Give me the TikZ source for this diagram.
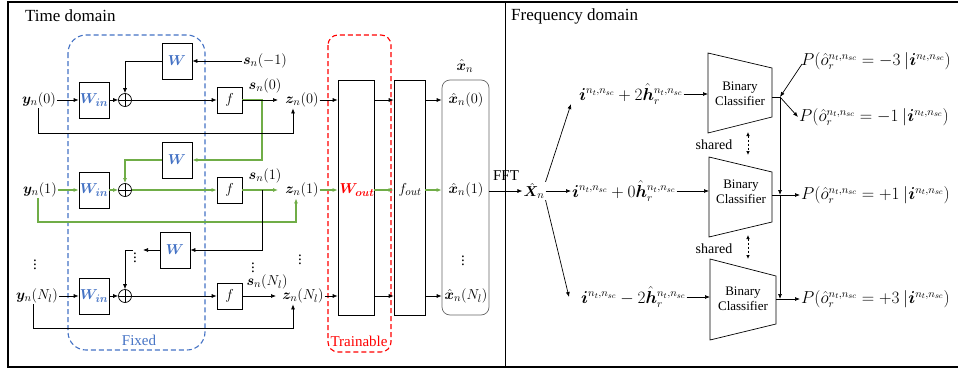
\documentclass[tikz,border=0pt]{standalone}
\usepackage{amsmath,amssymb,bm}
\usepackage{fontspec}
\setmainfont{Liberation Serif}
\usetikzlibrary{positioning,arrows.meta,calc}
\definecolor{fixblue}{RGB}{68,114,196}
\definecolor{trgreen}{RGB}{112,173,71}
\definecolor{trred}{RGB}{255,0,0}
\tikzset{
  blk/.style={draw,line width=0.7pt,inner sep=0pt},
  wbox/.style={blk,minimum width=30pt,minimum height=36pt,font=\fontsize{15}{18}\selectfont,text=fixblue},
  fbox/.style={blk,minimum width=25pt,minimum height=26pt,font=\fontsize{15}{18}\selectfont},
  colbox/.style={blk,minimum height=235pt},
  sumnode/.style={circle,draw,line width=0.7pt,minimum size=13pt,inner sep=0pt,
    path picture={\draw[line width=0.7pt] (path picture bounding box.north)--(path picture bounding box.south)
      (path picture bounding box.west)--(path picture bounding box.east);}},
  lbl/.style={inner sep=1pt,font=\fontsize{15}{18}\selectfont},
  plbl/.style={lbl,anchor=west,font=\fontsize{16}{19}\selectfont},
  txt/.style={inner sep=1pt,font=\fontsize{13}{15}\selectfont,align=center},
  title/.style={inner sep=0pt,anchor=west,font=\fontsize{17}{20}\selectfont},
  flow/.style={-{Latex[length=5pt,width=4pt]},line width=0.7pt},
  gflow/.style={flow,trgreen,line width=2pt},
  region/.style={dash pattern=on 5pt off 3pt,line width=1.1pt},
  shr/.style={{Latex[length=4pt,width=3.5pt]}-{Latex[length=4pt,width=3.5pt]},dash pattern=on 2pt off 2pt,line width=0.7pt},
}

\begin{document}
\begin{tikzpicture}[x=1pt,y=-1pt]
  \useasboundingbox (0,0) rectangle (958,372);
  \draw[line width=1.2pt] (958,2) -- (8,2) -- (8,367);
  \draw[line width=2.5pt] (7,367) -- (958,367);
  \draw[line width=0.8pt] (505,2) -- (505,366);
  \node[title] (tdom) at (25,16) {Time domain};
  \node[title] (fdom) at (511,16) {Frequency domain};

  \draw[region,fixblue,rounded corners=18pt] (68,35) rectangle (205,350);
  \node[lbl,text=fixblue] (fixed) at (139,340) {Fixed};
  \draw[region,trred,rounded corners=10pt] (328,35) rectangle (391,352);
  \node[lbl,text=trred] (train) at (359,341) {Trainable};

  \node[lbl] (y0) at (39,100) {$\boldsymbol{y}_n(0)$};
  \node[wbox] (win0) at (94,100) {$\boldsymbol{W}_{\boldsymbol{in}}$};
  \node[sumnode] (sum0) at (125,100) {};
  \node[fbox] (f0) at (229.5,100) {$f$};
  \node[wbox] (w0) at (177,61) {$\boldsymbol{W}$};
  \node[lbl] (sm1) at (265,61) {$\boldsymbol{s}_n(-1)$};
  \node[lbl] (s0) at (265,86) {$\boldsymbol{s}_n(0)$};
  \node[lbl] (z0) at (302,100) {$\boldsymbol{z}_n(0)$};
  \coordinate (tap0) at (262,100);
  \coordinate (zin0) at (278,100);
  \coordinate (y0b) at (38,133);
  \coordinate (z0b) at (293,133);

  \node[lbl] (y1) at (40,190) {$\boldsymbol{y}_n(1)$};
  \node[wbox] (win1) at (94,190) {$\boldsymbol{W}_{\boldsymbol{in}}$};
  \node[sumnode] (sum1) at (125,190) {};
  \node[fbox] (f1) at (229.5,190) {$f$};
  \node[wbox] (w1) at (177,160) {$\boldsymbol{W}$};
  \node[lbl] (s1) at (265,176) {$\boldsymbol{s}_n(1)$};
  \node[lbl] (z1) at (302,190) {$\boldsymbol{z}_n(1)$};
  \coordinate (tap1) at (262,190);
  \coordinate (zin1) at (278,190);
  \coordinate (y1b) at (38,222);
  \coordinate (z1b) at (296,222);

  \node[wbox] (w2) at (175,250) {$\boldsymbol{W}$};
  \node[lbl] (dotsw) at (135,255) {$\vdots$};
  \coordinate (dotsin) at (143,250);
  \coordinate (fbN) at (133,250);

  \node[lbl] (yN) at (37,296) {$\boldsymbol{y}_n(N_l)$};
  \node[wbox] (winN) at (94,296) {$\boldsymbol{W}_{\boldsymbol{in}}$};
  \node[sumnode] (sumN) at (125,296) {};
  \node[fbox] (fN) at (229.5,296) {$f$};
  \node[lbl] (sN) at (267,282) {$\boldsymbol{s}_n(N_l)$};
  \node[lbl] (zN) at (303,296) {$\boldsymbol{z}_n(N_l)$};
  \coordinate (zinN) at (276,296);
  \coordinate (yNb) at (33,328);
  \coordinate (zNb) at (293,328);

  \node[lbl] (dy) at (35,262) {$\vdots$};
  \node[lbl] (ds) at (253,265) {$\vdots$};
  \node[lbl] (dz) at (300,257) {$\vdots$};

  \draw[flow] (y0) -- (win0);
  \draw[flow] (win0) -- (sum0);
  \draw[flow] (sum0) -- (f0);
  \draw[flow] (sm1) -- (w0);
  \draw[flow] (w0.west) -| (sum0.north);
  \draw[gflow] (f0.east) -- (tap0) |- (w1.east);
  \draw[flow] (f0.east) -- (zin0);
  \draw[flow] (y0.south -| y0b) -- (y0b) -- (z0b) -- (z0.south -| z0b);

  \draw[gflow] (y1) -- (win1);
  \draw[gflow] (win1) -- (sum1);
  \draw[gflow] (sum1) -- (f1);
  \draw[gflow] (w1.west) -| (sum1.north);
  \draw[gflow] (f1.east) -- (zin1);
  \draw[gflow] (y1.south -| y1b) -- (y1b) -- (z1b) -- (z1.south -| z1b);
  \draw[flow] (tap1) |- (w2.east);
  \draw[flow] (w2.west) -- (dotsin);
  \draw[flow] (fbN) -| (sumN.north);

  \draw[flow] (yN) -- (winN);
  \draw[flow] (winN) -- (sumN);
  \draw[flow] (sumN) -- (fN);
  \draw[flow] (fN.east) -- (zinN);
  \draw[flow] (yN.south -| yNb) -- (yNb) -- (zNb) -- (zN.south -| zNb);

  \node[colbox,minimum width=36pt] (wout) at (356,197.5) {};
  \node[lbl,text=trred] (woutl) at (357,190) {$\boldsymbol{W}_{\boldsymbol{out}}$};
  \node[colbox,minimum width=31pt] (fout) at (409.5,197.5) {};
  \node[lbl] (foutl) at (410,190) {$f_{out}$};
  \node[draw=black!60,line width=0.7pt,rounded corners=8pt,minimum width=47pt,minimum height=235pt] (xbox) at (465.5,197.5) {};
  \node[lbl] (xh) at (465,66) {$\hat{\boldsymbol{x}}_n$};
  \node[lbl] (xh0) at (466,100) {$\hat{\boldsymbol{x}}_n(0)$};
  \node[lbl] (xh1) at (466,190) {$\hat{\boldsymbol{x}}_n(1)$};
  \node[lbl] (dx) at (463,258) {$\vdots$};
  \node[lbl] (xhN) at (466,296) {$\hat{\boldsymbol{x}}_n(N_l)$};

  \draw[flow] (z0.east) -- (z0.east -| wout.west);
  \draw[gflow] (z1.east) -- (z1.east -| wout.west);
  \draw[flow] (zN.east) -- (zN.east -| wout.west);
  \draw[flow] (wout.east |- z0) -- (fout.west |- z0);
  \draw[gflow] (wout.east |- z1) -- (fout.west |- z1);
  \draw[flow] (wout.east |- zN) -- (fout.west |- zN);
  \draw[flow] (fout.east |- z0) -- (xbox.west |- z0);
  \draw[gflow] (fout.east |- z1) -- (xbox.west |- z1);
  \draw[flow] (fout.east |- zN) -- (xbox.west |- zN);

  \node[lbl] (fft) at (506,176) {FFT};
  \node[lbl] (Xh) at (534,191) {$\hat{\boldsymbol{X}}_n$};
  \draw[flow] (xbox.east |- Xh) -- (Xh.west);

  \node[plbl] (b1) at (578,94) {$\boldsymbol{i}^{n_t,n_{sc}}+2\hat{\boldsymbol{h}}_r^{n_t,n_{sc}}$};
  \node[plbl] (b2) at (571,191) {$\boldsymbol{i}^{n_t,n_{sc}}+0\hat{\boldsymbol{h}}_r^{n_t,n_{sc}}$};
  \node[plbl] (b3) at (580,297) {$\boldsymbol{i}^{n_t,n_{sc}}-2\hat{\boldsymbol{h}}_r^{n_t,n_{sc}}$};
  \coordinate (xe1) at (571,104);
  \coordinate (xe3) at (569,297);
  \draw[flow] (Xh.north east) -- (xe1);
  \draw[flow] (Xh.east) -- (b2.west);
  \draw[flow] (Xh.south east) -- (xe3);

  \draw[line width=0.7pt] (708,53) -- (772,68) -- (772,117) -- (708,133) -- cycle;
  \draw[line width=0.7pt] (709,157) -- (772,172) -- (772,222) -- (709,237) -- cycle;
  \draw[line width=0.7pt] (710,259) -- (776,276) -- (776,324) -- (710,340) -- cycle;
  \node[txt] (bc1) at (740,94) {Binary\\Classifier};
  \node[txt] (bc2) at (741,192) {Binary\\Classifier};
  \node[txt] (bc3) at (743,299) {Binary\\Classifier};
  \coordinate (c1in) at (708,94);
  \coordinate (c2in) at (709,191);
  \coordinate (c3in) at (710,297);
  \draw[flow] (b1.east) -- (c1in);
  \draw[flow] (b2.east) -- (c2in);
  \draw[flow] (b3.east) -- (c3in);

  \node[txt,font=\fontsize{14}{16}\selectfont] (sh1) at (714,145) {shared};
  \node[txt,font=\fontsize{14}{16}\selectfont] (sh2) at (714,249) {shared};
  \coordinate (sh1t) at (748,132);
  \coordinate (sh1b) at (748,155);
  \coordinate (sh2t) at (748,235);
  \coordinate (sh2b) at (748,259);
  \draw[shr] (sh1t) -- (sh1b);
  \draw[shr] (sh2t) -- (sh2b);

  \node[plbl] (pm3) at (800,61) {$P(\hat{o}_r^{n_t,n_{sc}}=-3\ |\boldsymbol{i}^{n_t,n_{sc}})$};
  \node[plbl] (pm1) at (798,117) {$P(\hat{o}_r^{n_t,n_{sc}}=-1\ |\boldsymbol{i}^{n_t,n_{sc}})$};
  \node[plbl] (pp1) at (800,195) {$P(\hat{o}_r^{n_t,n_{sc}}=+1\ |\boldsymbol{i}^{n_t,n_{sc}})$};
  \node[plbl] (pp3) at (800,299) {$P(\hat{o}_r^{n_t,n_{sc}}=+3\ |\boldsymbol{i}^{n_t,n_{sc}})$};
  \coordinate (c1out) at (772,97);
  \coordinate (c2out) at (772,195);
  \coordinate (c3out) at (776,299);
  \coordinate (bus1) at (780,97);
  \coordinate (bus2) at (780,195);
  \coordinate (bus3) at (780,299);
  \draw[line width=0.7pt] (c1out) -- (bus1);
  \draw[line width=0.7pt] (c2out) -- (bus2);
  \draw[line width=0.7pt] (c3out) -- (bus3);
  \draw[flow] (bus1) -- (bus2);
  \draw[flow] (bus2) -- (bus3);
  \draw[flow] ([xshift=2pt,yshift=-3pt]pm3.west) -- (bus1);
  \draw[flow] (bus1) -- (pm1.west);
  \draw[flow] (bus2) -- (pp1.west);
  \draw[flow] (bus3) -- (pp3.west);
\end{tikzpicture}
\end{document}
